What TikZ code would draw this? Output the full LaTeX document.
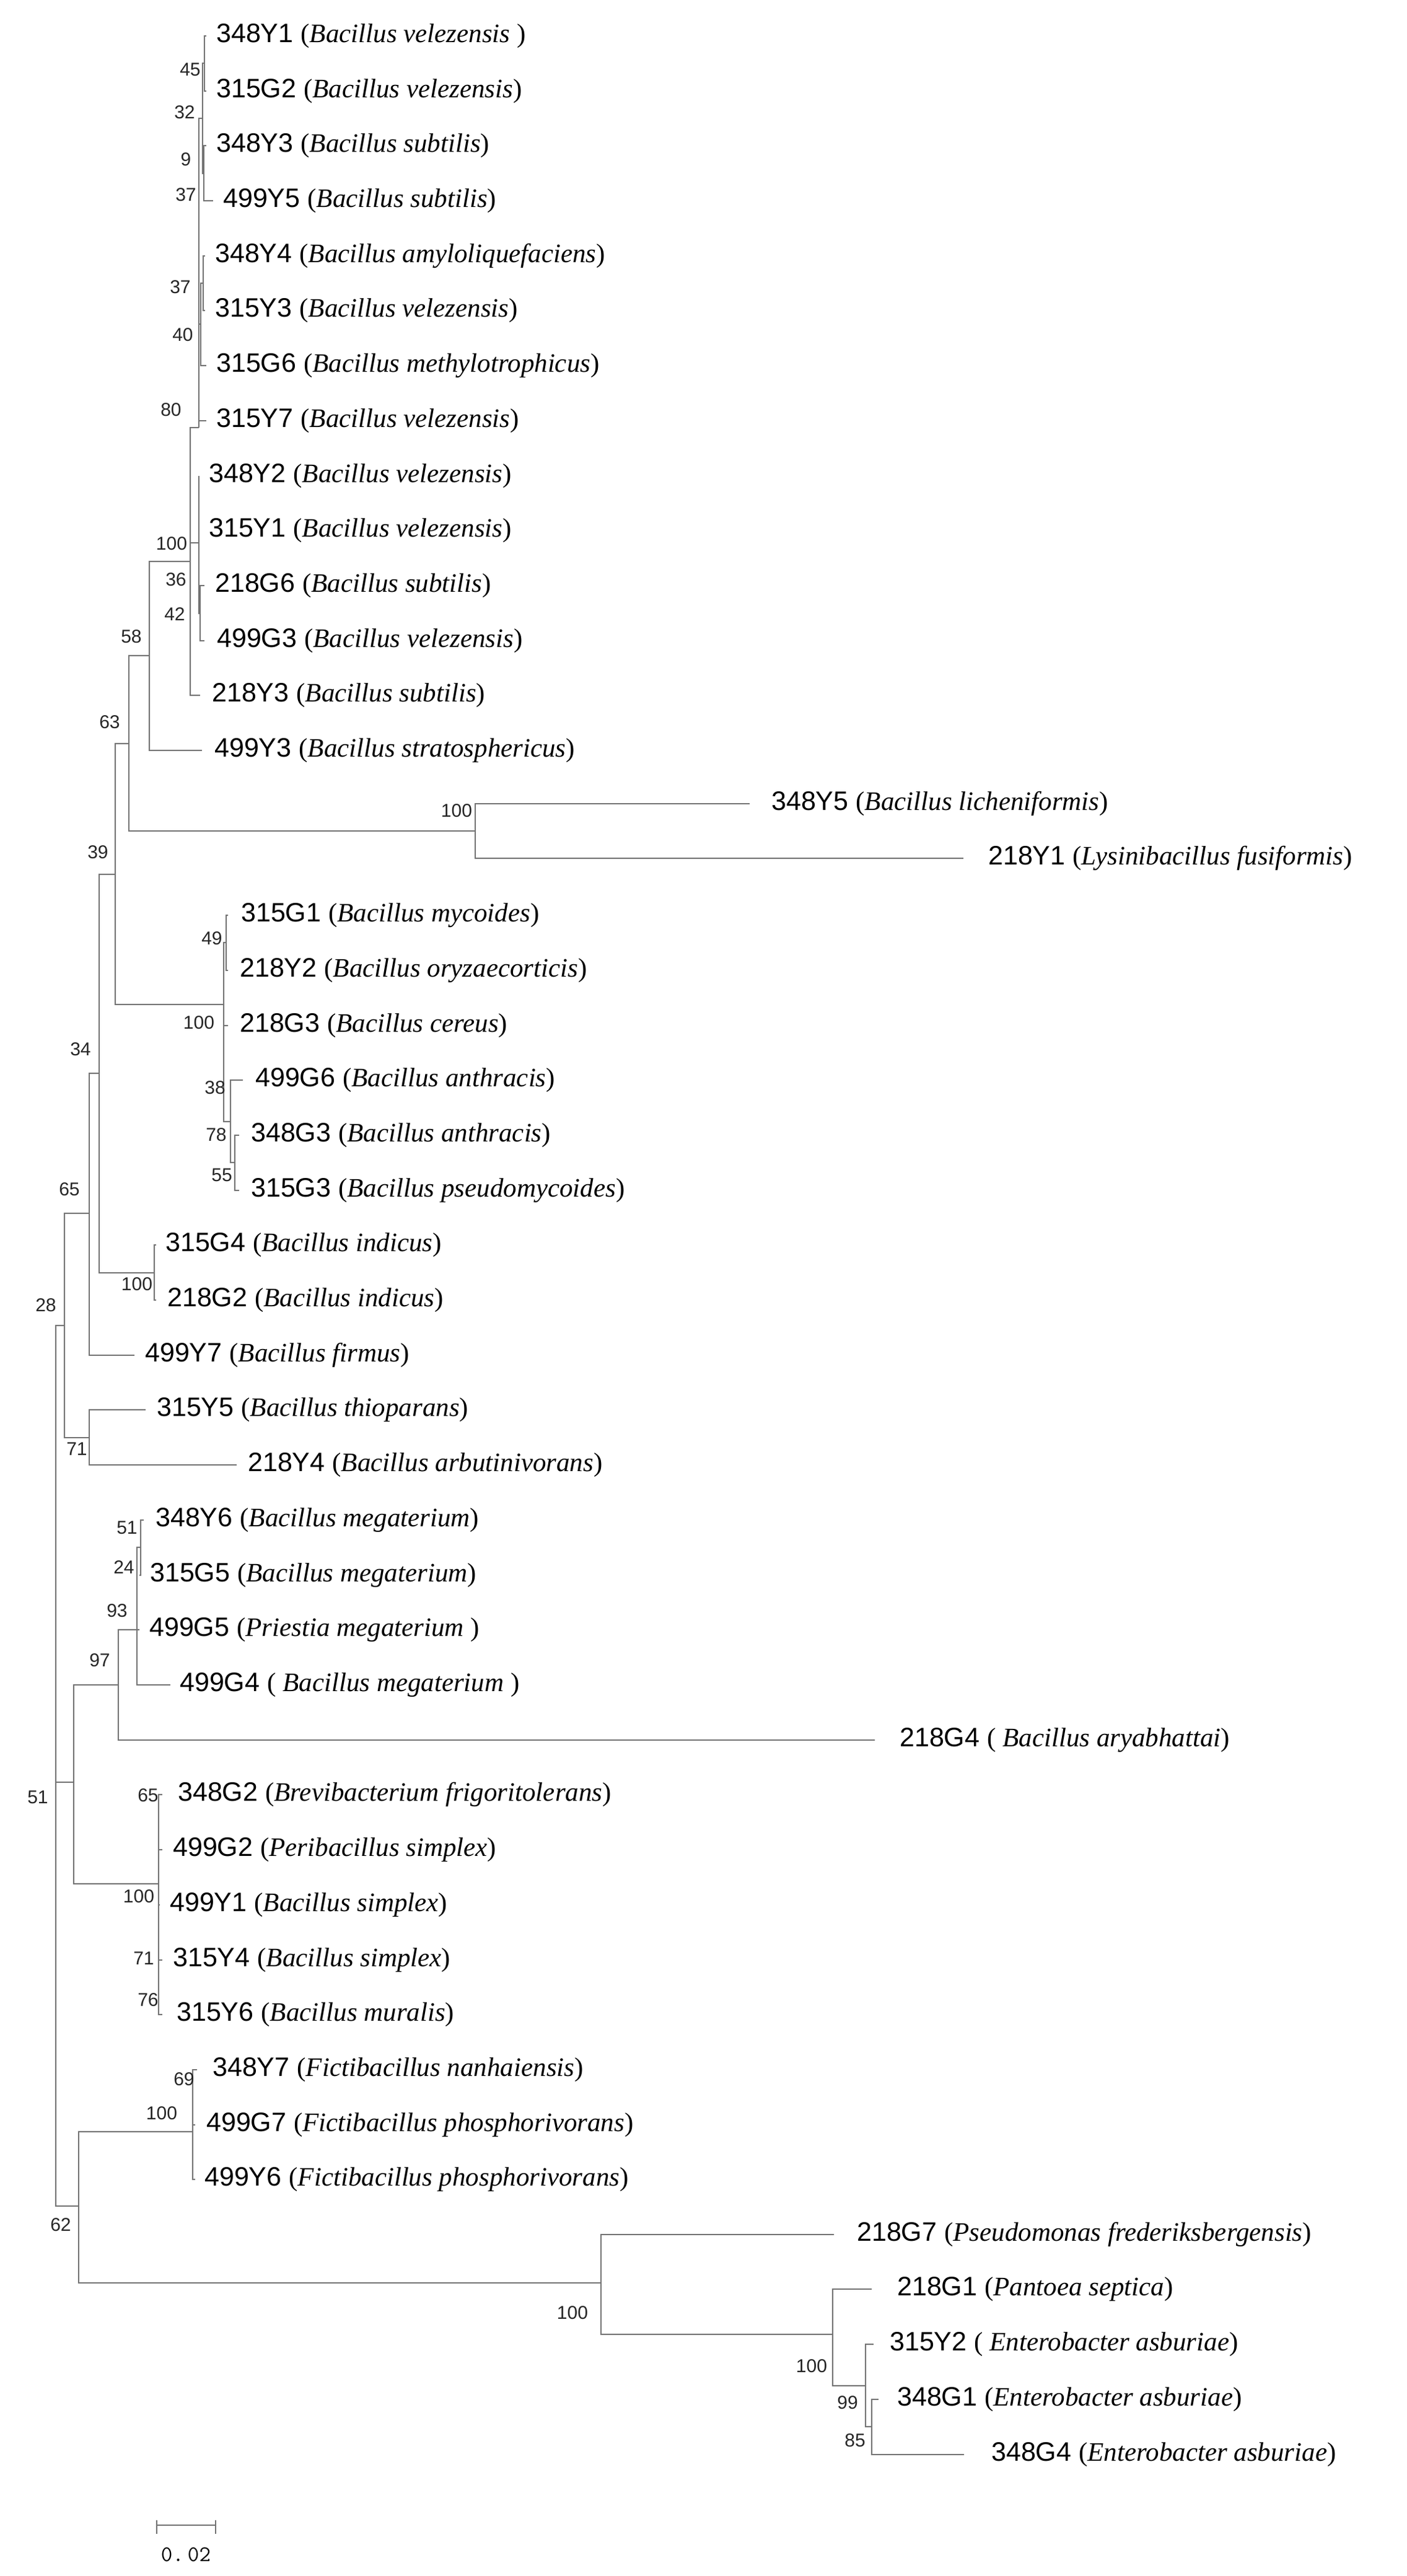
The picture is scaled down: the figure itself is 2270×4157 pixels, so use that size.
\documentclass[tikz,border=0pt]{standalone}
\usepackage{fontspec}
\setmainfont{Liberation Serif}
\setsansfont{Liberation Sans}
\begin{document}
\begin{tikzpicture}[x=1pt,y=-1pt,
  br/.style={draw=black!55,line width=2.6pt},
  lab/.style={inner sep=0pt,anchor=west,font=\fontsize{43}{46}\selectfont},
  bs/.style={inner sep=0pt,font=\sffamily\fontsize{30}{30}\selectfont,text=black!85}]
\useasboundingbox (0,0) rectangle (2270,4157);
\newcommand\leaf[6]{\coordinate (t#1) at (#2,#3);
  \node[lab] (l#1) at (#4,#3) {\sffamily #5 \rmfamily(\itshape #6\upshape)};}
\leaf{1}{333}{58}{349}{348Y1}{Bacillus velezensis }
\leaf{2}{333}{147}{349}{315G2}{Bacillus velezensis}
\leaf{3}{333}{235}{349}{348Y3}{Bacillus subtilis}
\leaf{4}{344}{324}{360}{499Y5}{Bacillus subtilis}
\leaf{5}{331}{413}{347}{348Y4}{Bacillus amyloliquefaciens}
\leaf{6}{331}{501}{347}{315Y3}{Bacillus velezensis}
\leaf{7}{333}{590}{349}{315G6}{Bacillus methylotrophicus}
\leaf{8}{333}{679}{349}{315Y7}{Bacillus velezensis}
\leaf{9}{321}{768}{337}{348Y2}{Bacillus velezensis}
\leaf{10}{321}{856}{337}{315Y1}{Bacillus velezensis}
\leaf{11}{330}{945}{347}{218G6}{Bacillus subtilis}
\leaf{12}{330}{1034}{350}{499G3}{Bacillus velezensis}
\leaf{13}{323}{1122}{342}{218Y3}{Bacillus subtilis}
\leaf{14}{326}{1211}{346}{499Y3}{Bacillus stratosphericus}
\leaf{15}{1210}{1297}{1245}{348Y5}{Bacillus licheniformis}
\leaf{16}{1555}{1385}{1595}{218Y1}{Lysinibacillus fusiformis}
\leaf{17}{368}{1477}{389}{315G1}{Bacillus mycoides}
\leaf{18}{368}{1566}{387}{218Y2}{Bacillus oryzaecorticis}
\leaf{19}{368}{1655}{387}{218G3}{Bacillus cereus}
\leaf{20}{392}{1743}{412}{499G6}{Bacillus anthracis}
\leaf{21}{386}{1832}{405}{348G3}{Bacillus anthracis}
\leaf{22}{386}{1921}{405}{315G3}{Bacillus pseudomycoides}
\leaf{23}{252}{2009}{267}{315G4}{Bacillus indicus}
\leaf{24}{252}{2098}{270}{218G2}{Bacillus indicus}
\leaf{25}{217}{2187}{234}{499Y7}{Bacillus firmus}
\leaf{26}{235}{2275}{253}{315Y5}{Bacillus thioparans}
\leaf{27}{382}{2364}{400}{218Y4}{Bacillus arbutinivorans}
\leaf{28}{232}{2453}{251}{348Y6}{Bacillus megaterium}
\leaf{29}{225}{2542}{242}{315G5}{Bacillus megaterium}
\leaf{30}{225}{2630}{241}{499G5}{Priestia megaterium }
\leaf{31}{275}{2719}{290}{499G4}{ Bacillus megaterium }
\leaf{32}{1412}{2808}{1452}{218G4}{ Bacillus aryabhattai}
\leaf{33}{262}{2896}{287}{348G2}{Brevibacterium frigoritolerans}
\leaf{34}{262}{2985}{279}{499G2}{Peribacillus simplex}
\leaf{35}{258}{3074}{274}{499Y1}{Bacillus simplex}
\leaf{36}{262}{3163}{279}{315Y4}{Bacillus simplex}
\leaf{37}{262}{3251}{285}{315Y6}{Bacillus muralis}
\leaf{38}{318}{3340}{343}{348Y7}{Fictibacillus nanhaiensis}
\leaf{39}{315}{3429}{333}{499G7}{Fictibacillus phosphorivorans}
\leaf{40}{315}{3517}{330}{499Y6}{Fictibacillus phosphorivorans}
\leaf{41}{1346}{3606}{1383}{218G7}{Pseudomonas frederiksbergensis}
\leaf{42}{1407}{3694}{1448}{218G1}{Pantoea septica}
\leaf{43}{1410}{3783}{1436}{315Y2}{ Enterobacter asburiae}
\leaf{44}{1418}{3872}{1448}{348G1}{Enterobacter asburiae}
\leaf{45}{1556}{3961}{1600}{348G4}{Enterobacter asburiae}
% internal nodes
\coordinate (n45) at (330,102);
\coordinate (n9) at (329,280);
\coordinate (n32) at (327,191);
\coordinate (n37) at (328,457);
\coordinate (n40) at (324,523);
\coordinate (n80) at (321,690);
\coordinate (n42) at (323,990);
\coordinate (n36) at (321,876);
\coordinate (na) at (307,906);
\coordinate (n58) at (241,1058);
\coordinate (nb) at (767,1341);
\coordinate (n63) at (208,1200);
\coordinate (n49) at (365,1521);
\coordinate (n78) at (379,1876);
\coordinate (n38) at (372,1810);
\coordinate (nc) at (361,1621);
\coordinate (n39) at (186,1411);
\coordinate (nd) at (249,2054);
\coordinate (n34) at (160,1732);
\coordinate (n65) at (144,1958);
\coordinate (n71) at (144,2320);
\coordinate (n28) at (104,2139);
\coordinate (nm) at (227,2497);
\coordinate (n93) at (221,2630);
\coordinate (n97) at (191,2719);
\coordinate (ns) at (256,3040);
\coordinate (nms) at (119,2876);
\coordinate (nf) at (311,3440);
\coordinate (n85) at (1407,3916);
\coordinate (n99) at (1397,3850);
\coordinate (ne) at (1344,3767);
\coordinate (ng) at (970,3684);
\coordinate (n62) at (127,3560);
\coordinate (root) at (90,2876);
\foreach \p/\c in {n45/t1,n45/t2,n9/t3,n9/t4,n32/n45,n32/n9,n37/t5,n37/t6,n40/n37,n40/t7,
  n80/n32,n80/n40,n80/t8,n42/t11,n42/t12,n36/t9,n36/t10,n36/n42,na/n80,na/n36,na/t13,
  n58/na,n58/t14,nb/t15,nb/t16,n63/n58,n63/nb,n49/t17,n49/t18,n78/t21,n78/t22,n38/t20,n38/n78,
  nc/n49,nc/t19,nc/n38,n39/n63,n39/nc,nd/t23,nd/t24,n34/n39,n34/nd,n65/n34,n65/t25,
  n71/t26,n71/t27,n28/n65,n28/n71,nm/t28,nm/t29,n93/nm,n93/t30,n93/t31,n97/n93,n97/t32,
  ns/t33,ns/t34,ns/t35,ns/t36,ns/t37,nms/n97,nms/ns,nf/t38,nf/t39,nf/t40,
  n85/t44,n85/t45,n99/t43,n99/n85,ne/t42,ne/n99,ng/t41,ng/ne,n62/nf,n62/ng,
  root/n28,root/nms,root/n62}
  \draw[br] (\p) |- (\c);
% bootstrap values
\foreach \t/\x/\y [count=\i] in {45/307/112,32/298/181,9/300/257,37/300/314,37/291/463,40/295/540,
  80/276/661,100/277/877,36/284/935,42/282/991,58/212/1027,63/177/1165,100/737/1308,39/158/1375,
  49/342/1514,100/321/1650,38/347/1755,78/349/1831,55/358/1896,34/130/1693,65/112/1919,
  100/221/2072,28/74/2106,71/124/2338,51/205/2465,24/200/2529,93/189/2599,97/161/2679,
  51/61/2900,65/239/2897,100/224/3060,71/232/3160,76/239/3227,69/297/3355,100/261/3410,
  62/98/3590,100/924/3732,100/1310/3818,99/1368/3877,85/1380/3938}
  \node[bs] (b\i) at (\x,\y) {\t};
% scale bar
\coordinate (s1) at (253,4075);
\coordinate (s2) at (348,4075);
\draw[br,line width=2pt] (s1) -- (s2);
\draw[br,line width=2pt] ([yshift=-14]s1) -- ([yshift=8]s1);
\draw[br,line width=2pt] ([yshift=-14]s2) -- ([yshift=8]s2);
\node[inner sep=0pt,font=\fontsize{36}{36}\selectfont\ttfamily] (sl) at (300,4122) {0.\,02};
\end{tikzpicture}
\end{document}
